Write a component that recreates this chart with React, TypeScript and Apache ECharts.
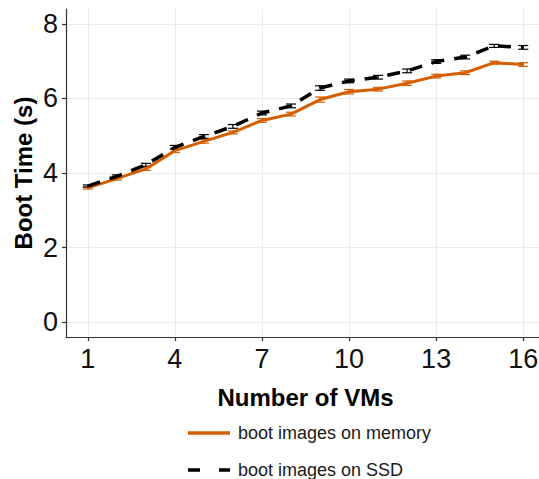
import React, { useEffect, useRef } from "react";
import * as echarts from "echarts";

const vmCounts = [1, 2, 3, 4, 5, 6, 7, 8, 9, 10, 11, 12, 13, 14, 15, 16];
const memoryBoot = [3.6, 3.85, 4.11, 4.6, 4.85, 5.09, 5.41, 5.58, 5.97, 6.18, 6.25, 6.41, 6.6, 6.69, 6.96, 6.91];
const memoryErr = [0.03, 0.04, 0.04, 0.05, 0.05, 0.04, 0.05, 0.05, 0.07, 0.06, 0.05, 0.06, 0.05, 0.05, 0.04, 0.05];
const ssdBoot = [3.65, 3.91, 4.22, 4.69, 4.98, 5.25, 5.61, 5.8, 6.28, 6.47, 6.57, 6.74, 6.99, 7.11, 7.41, 7.37];
const ssdErr = [0.03, 0.04, 0.04, 0.05, 0.05, 0.05, 0.05, 0.05, 0.06, 0.05, 0.05, 0.05, 0.05, 0.05, 0.04, 0.05];
const xTicks = [1, 4, 7, 10, 13, 16];
const yTicks = [0, 2, 4, 6, 8];
const seriesNames = ["boot images on memory", "boot images on SSD"];
const seriesColors = ["#D55E00", "#000000"];

const FONT = "'Liberation Sans', Arial, Helvetica, sans-serif";

function errorSeries(values: number[], errs: number[], color: string) {
  return {
    type: "custom",
    silent: true,
    z: 3,
    data: vmCounts.map((x, i) => [x, values[i] - errs[i], values[i] + errs[i]]),
    renderItem: (params: any, api: any) => {
      const x = api.value(0);
      const lo = api.coord([x, api.value(1)]);
      const hi = api.coord([x, api.value(2)]);
      const hw = 5;
      const style = { stroke: color, lineWidth: 1.2, fill: "none" };
      return {
        type: "group",
        children: [
          { type: "line", shape: { x1: lo[0], y1: lo[1], x2: hi[0], y2: hi[1] }, style },
          { type: "line", shape: { x1: lo[0] - hw, y1: lo[1], x2: lo[0] + hw, y2: lo[1] }, style },
          { type: "line", shape: { x1: hi[0] - hw, y1: hi[1], x2: hi[0] + hw, y2: hi[1] }, style },
        ],
      };
    },
  };
}

export default function App() {
  const ref = useRef<HTMLDivElement>(null);
  useEffect(() => {
    document.body.style.margin = "0";
    document.body.style.overflow = "hidden";
    document.documentElement.style.overflow = "hidden";
    if (!ref.current) return;
    const chart = echarts.init(ref.current, undefined, { renderer: "svg" });
    const legendX = 188;
    const legendY = [433, 470];
    chart.setOption({
      animation: false,
      backgroundColor: "#ffffff",
      grid: { left: 66, top: 9, right: 0, bottom: 142, containLabel: false },
      xAxis: {
        type: "value",
        min: 0.25,
        max: 16.75,
        name: "Number of VMs",
        nameLocation: "middle",
        nameGap: 48,
        nameMoveOverlap: false,
        nameTextStyle: { fontFamily: FONT, fontSize: 24, fontWeight: "bold", color: "#000" },
        axisLine: { show: true, onZero: false, lineStyle: { color: "#333", width: 1.2 } },
        axisTick: { show: true, length: 4, customValues: xTicks, lineStyle: { color: "#333", width: 1.2 } },
        axisLabel: { customValues: xTicks, fontFamily: FONT, fontSize: 27, color: "#111", margin: 8 },
        splitLine: { show: true, lineStyle: { color: "#ebebeb", width: 1 } },
      },
      yAxis: {
        type: "value",
        min: -0.4,
        max: 8.4,
        name: "Boot Time (s)",
        nameLocation: "middle",
        nameGap: 31,
        nameMoveOverlap: false,
        nameTextStyle: { fontFamily: FONT, fontSize: 24, fontWeight: "bold", color: "#000" },
        axisLine: { show: true, onZero: false, lineStyle: { color: "#333", width: 1.2 } },
        axisTick: { show: true, length: 4, customValues: yTicks, lineStyle: { color: "#333", width: 1.2 } },
        axisLabel: { customValues: yTicks, fontFamily: FONT, fontSize: 27, color: "#111", margin: 8 },
        splitLine: { show: true, lineStyle: { color: "#ebebeb", width: 1 } },
      },
      series: [
        errorSeries(memoryBoot, memoryErr, seriesColors[0]),
        {
          name: seriesNames[0],
          type: "line",
          data: vmCounts.map((x, i) => [x, memoryBoot[i]]),
          symbol: "none",
          z: 4,
          lineStyle: { color: seriesColors[0], width: 3 },
        },
        errorSeries(ssdBoot, ssdErr, seriesColors[1]),
        {
          name: seriesNames[1],
          type: "line",
          data: vmCounts.map((x, i) => [x, ssdBoot[i]]),
          symbol: "none",
          z: 5,
          lineStyle: { color: seriesColors[1], width: 3.5, type: [13, 10] },
        },
      ],
      graphic: [
        {
          type: "line",
          shape: { x1: legendX, y1: legendY[0], x2: legendX + 42, y2: legendY[0] },
          style: { stroke: seriesColors[0], lineWidth: 3.5 },
        },
        {
          type: "line",
          shape: { x1: legendX, y1: legendY[1], x2: legendX + 42, y2: legendY[1] },
          style: { stroke: seriesColors[1], lineWidth: 3.5, lineDash: [12, 19] },
        },
        {
          type: "text",
          x: legendX + 50,
          y: legendY[0],
          style: { text: seriesNames[0], fontFamily: FONT, fontSize: 18, fill: "#1a1a1a", verticalAlign: "middle" },
        },
        {
          type: "text",
          x: legendX + 50,
          y: legendY[1],
          style: { text: seriesNames[1], fontFamily: FONT, fontSize: 18, fill: "#1a1a1a", verticalAlign: "middle" },
        },
      ],
    });
    return () => chart.dispose();
  }, []);
  return <div ref={ref} style={{ width: 545, height: 479 }} />;
}
